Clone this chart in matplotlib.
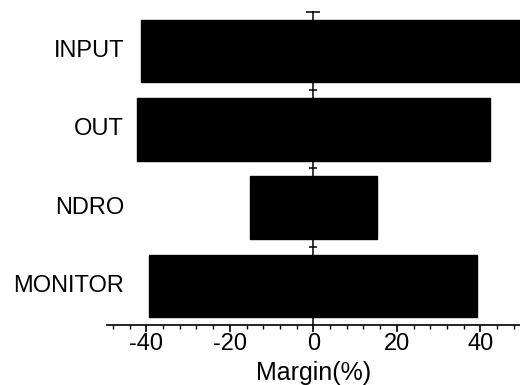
import matplotlib
matplotlib.use('Agg')
import matplotlib.pyplot as plt
import numpy as np
from matplotlib.ticker import MultipleLocator, NullFormatter
import matplotlib.transforms as mtransforms

plt.rcParams['font.family'] = ['Liberation Sans', 'DejaVu Sans']
plt.rcParams['axes.unicode_minus'] = False

# margin ranges per block (%)
names = ['INPUT', 'OUT', 'NDRO', 'MONITOR']
low = [-41.3, -42.2, -15.1, -39.3]
high = [52.0, 42.3, 15.3, 39.3]

fig = plt.figure(figsize=(5.2, 3.85), dpi=100)
ax = fig.add_axes([0.206, 0.156, 0.794, 0.813])

y = np.arange(len(names))
ax.barh(y, np.array(high) - np.array(low), left=low, height=0.8,
        color='black', edgecolor='black', zorder=2)

ax.set_xlim(-49.4, 49.5)
ax.set_ylim(3.5, -0.5)

# zero line acts as the y spine, ticks at block boundaries
ax.spines['left'].set_position(('data', 0))
ax.spines['left'].set_linewidth(1.1)
ax.spines['left'].set_zorder(1)
ax.spines['top'].set_visible(False)
ax.spines['right'].set_visible(False)
ax.spines['bottom'].set_linewidth(1.2)
ax.set_yticks(y[:-1] + 0.5)
ax.set_yticks([-0.5], minor=True)
ax.yaxis.set_major_formatter(NullFormatter())
ax.tick_params(axis='y', which='major', direction='inout', length=6, width=1.1)
ax.tick_params(axis='y', which='minor', direction='inout', length=10, width=1.1)

ax.xaxis.set_major_locator(MultipleLocator(20))
ax.xaxis.set_minor_locator(MultipleLocator(4))
ax.tick_params(axis='x', which='major', direction='out', length=5, width=1.2,
               labelsize=17, pad=1)
ax.tick_params(axis='x', which='minor', direction='out', length=3, width=1.0)
ax.set_xlabel('Margin(%)', fontsize=18, labelpad=4)

trans = mtransforms.blended_transform_factory(ax.transAxes, ax.transData)
for i, n in enumerate(names):
    ax.text(0.041, y[i], n, transform=trans, ha='right', va='center', fontsize=17)

fig.savefig('out.png', dpi=100)
